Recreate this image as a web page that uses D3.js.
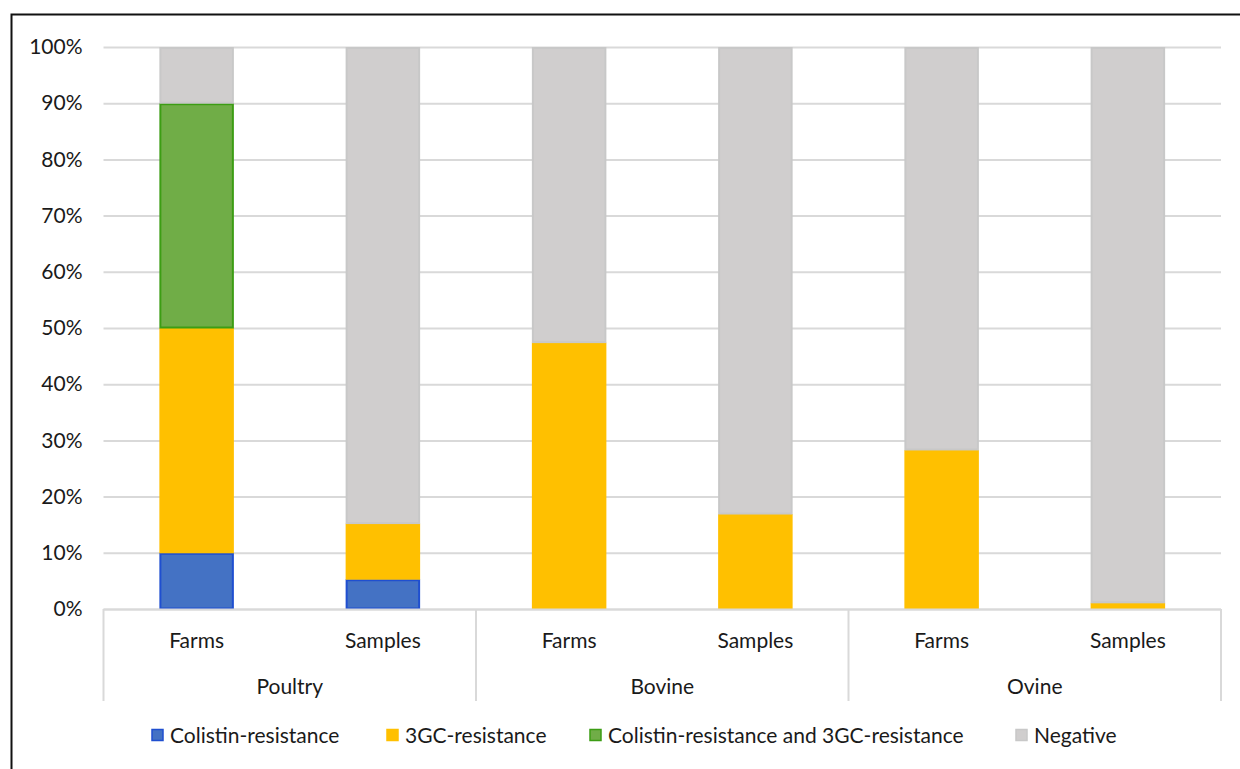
<!DOCTYPE html>
<html>
<head>
<meta charset="utf-8">
<script src="https://cdn.jsdelivr.net/npm/d3@7"></script>
<style>
  html, body { margin: 0; padding: 0; background: #fff; }
  svg { display: block; }
  text { font-family: Lato, "Open Sans", sans-serif; fill: #1a1a1a; }
</style>
</head>
<body>
<svg id="chart" width="1240" height="769"></svg>
<script>
// Animal groups and sample types along the category axis
const groups = ["Poultry", "Bovine", "Ovine"];
const subTypes = ["Farms", "Samples"];

// Series (percent of total, stacked bottom to top)
const seriesNames = ["Colistin-resistance", "3GC-resistance", "Colistin-resistance and 3GC-resistance", "Negative"];
const colistin = [10, 5.3, 0, 0, 0, 0];
const gc3 = [40, 9.9, 47.4, 16.9, 28.3, 1.1];
const both = [40, 0, 0, 0, 0, 0];
const negative = [10, 84.8, 52.6, 83.1, 71.7, 98.9];

const yTicks = [0, 10, 20, 30, 40, 50, 60, 70, 80, 90, 100];

const fills = ["#4472C4", "#FFC000", "#70AD47", "#D0CECE"];
const strokes = ["#1F4FD0", "#FFC000", "#3C9D14", "#C8C8C8"];

const fontSize = 21;
const svg = d3.select("#chart");

// Outer frame
svg.append("path")
  .attr("d", "M11.5,1000 L11.5,14.5 L1300,14.5")
  .attr("fill", "none").attr("stroke", "#111").attr("stroke-width", 2);

const margin = { left: 103.5, right: 1221, top: 47, bottom: 609 };

const cats = [];
groups.forEach(g => subTypes.forEach(s => cats.push(g + "|" + s)));

const x = d3.scaleBand().domain(cats)
  .range([margin.left, margin.right])
  .paddingInner(0.6).paddingOuter(0.3);
const y = d3.scaleLinear().domain([0, 100]).range([margin.bottom, margin.top]);

// Gridlines and y labels
const yAxis = d3.axisLeft(y).tickValues(yTicks).tickFormat(d => d + "%")
  .tickSize(-(margin.right - margin.left)).tickPadding(21);
const gy = svg.append("g").attr("transform", `translate(${margin.left},0)`).call(yAxis);
gy.select(".domain").remove();
gy.selectAll(".tick line").attr("stroke", "#D9D9D9").attr("stroke-width", 2);
gy.selectAll(".tick text").attr("font-size", fontSize).attr("fill", "#1a1a1a")
  .style("font-family", "Lato, 'Open Sans', sans-serif");

// Stacked bars
const rows = cats.map((c, i) => ({
  cat: c, v0: colistin[i], v1: gc3[i], v2: both[i], v3: negative[i]
}));
const stack = d3.stack().keys(["v0", "v1", "v2", "v3"]);
const layers = stack(rows);

layers.forEach((layer, li) => {
  svg.append("g").selectAll("rect")
    .data(layer.filter(d => d[1] - d[0] > 0))
    .join("rect")
    .attr("x", d => x(d.data.cat) + 1)
    .attr("width", x.bandwidth() - 2)
    .attr("y", d => y(d[1]) + 1)
    .attr("height", d => Math.max(0, y(d[0]) - y(d[1]) - 1.5))
    .attr("fill", fills[li])
    .attr("stroke", strokes[li])
    .attr("stroke-width", 2);
});

// Category axis: baseline, group separators and labels
const axisG = svg.append("g");
axisG.append("line")
  .attr("x1", margin.left).attr("x2", margin.right)
  .attr("y1", margin.bottom + 0.5).attr("y2", margin.bottom + 0.5)
  .attr("stroke", "#D9D9D9").attr("stroke-width", 2);

const groupWidth = (margin.right - margin.left) / groups.length;
d3.range(groups.length + 1).forEach(i => {
  const gx = margin.left + i * groupWidth;
  axisG.append("line")
    .attr("x1", gx).attr("x2", gx)
    .attr("y1", margin.bottom).attr("y2", 701)
    .attr("stroke", "#D9D9D9").attr("stroke-width", 2);
});

axisG.selectAll("text.sub")
  .data(cats).join("text")
  .attr("class", "sub")
  .attr("x", d => x(d) + x.bandwidth() / 2)
  .attr("y", 648)
  .attr("text-anchor", "middle")
  .attr("font-size", fontSize)
  .text(d => d.split("|")[1]);

axisG.selectAll("text.grp")
  .data(groups).join("text")
  .attr("class", "grp")
  .attr("x", (d, i) => margin.left + (i + 0.5) * groupWidth)
  .attr("y", 694)
  .attr("text-anchor", "middle")
  .attr("font-size", fontSize)
  .text(d => d);

// Legend
const legendX = [152, 387, 590, 1016];
const legend = svg.append("g");
seriesNames.forEach((name, i) => {
  legend.append("rect")
    .attr("x", legendX[i]).attr("y", 729.5)
    .attr("width", 11).attr("height", 11)
    .attr("fill", fills[i]).attr("stroke", strokes[i]).attr("stroke-width", 1.5);
  legend.append("text")
    .attr("x", legendX[i] + 18).attr("y", 743)
    .attr("font-size", fontSize)
    .text(name);
});
</script>
</body>
</html>
